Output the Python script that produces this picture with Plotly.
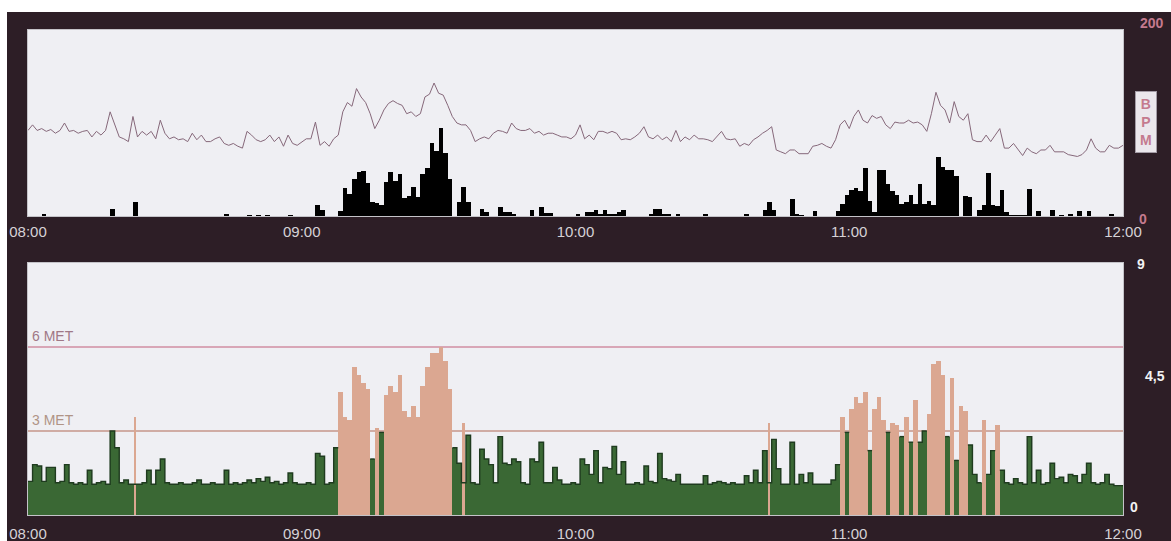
import plotly.graph_objects as go

# ---------------- data (one value per minute from 08:00) ----------------
tick_minutes = [0, 60, 120, 180, 240]
tick_labels = ["08:00", "09:00", "10:00", "11:00", "12:00"]

heart_rate = [
    92, 98, 92, 94, 91, 93, 89, 92, 100, 91, 92, 89, 91, 92, 85, 91, 87, 92, 112, 98,
    85, 83, 80, 107, 85, 91, 87, 91, 83, 103, 89, 83, 85, 82, 83, 80, 89, 82, 87, 80,
    80, 83, 85, 78, 76, 78, 75, 73, 91, 87, 82, 80, 82, 87, 80, 85, 75, 87, 78, 76,
    80, 83, 83, 101, 76, 80, 75, 83, 87, 112, 122, 118, 137, 128, 122, 110, 94, 103, 114, 121,
    124, 121, 119, 110, 112, 107, 110, 128, 131, 143, 132, 130, 119, 107, 100, 98, 98, 92, 80, 83,
    85, 83, 89, 92, 91, 89, 100, 94, 92, 92, 94, 89, 91, 87, 89, 89, 87, 85, 85, 83,
    87, 98, 83, 87, 82, 91, 91, 89, 91, 89, 82, 83, 82, 85, 89, 96, 85, 83, 87, 82,
    85, 80, 92, 80, 85, 82, 87, 83, 83, 82, 80, 85, 91, 83, 82, 83, 75, 78, 76, 82,
    85, 89, 92, 96, 71, 69, 67, 71, 71, 67, 67, 67, 75, 76, 78, 75, 73, 82, 98, 103,
    94, 107, 114, 103, 100, 108, 105, 107, 98, 94, 101, 100, 100, 103, 100, 101, 98, 91, 110, 133,
    119, 114, 100, 123, 107, 103, 110, 82, 80, 80, 87, 80, 87, 94, 73, 73, 78, 71, 65, 73,
    69, 67, 71, 71, 76, 69, 69, 69, 66, 65, 64, 66, 71, 83, 73, 69, 69, 76, 73, 73,
    76,
]

activity_counts = [
    0, 0, 0, 2, 0, 0, 0, 0, 0, 0, 0, 0, 0, 0, 0, 0, 0, 0, 8, 0,
    0, 0, 0, 15, 0, 0, 0, 0, 0, 0, 0, 0, 0, 0, 0, 0, 0, 0, 0, 0,
    0, 0, 0, 2, 0, 0, 0, 0, 1, 0, 1, 0, 1, 0, 0, 0, 0, 1, 0, 0,
    0, 0, 0, 12, 6, 0, 0, 0, 5, 30, 24, 40, 47, 48, 35, 15, 14, 12, 37, 47,
    38, 45, 19, 22, 31, 20, 45, 52, 78, 70, 95, 68, 40, 0, 15, 31, 15, 0, 0, 7,
    4, 0, 0, 10, 4, 4, 2, 0, 0, 0, 6, 0, 10, 3, 3, 0, 0, 0, 0, 0,
    2, 0, 4, 4, 6, 2, 6, 2, 2, 4, 6, 0, 0, 0, 0, 0, 2, 8, 8, 2,
    2, 0, 2, 0, 0, 0, 0, 0, 2, 0, 0, 0, 0, 0, 0, 0, 0, 2, 0, 0,
    0, 6, 15, 6, 0, 0, 0, 18, 2, 1, 0, 0, 5, 0, 0, 0, 0, 5, 13, 23,
    28, 30, 27, 52, 16, 4, 49, 49, 34, 27, 23, 13, 15, 23, 13, 34, 13, 16, 12, 63,
    53, 50, 50, 43, 0, 21, 20, 0, 6, 12, 46, 12, 11, 28, 4, 1, 1, 1, 1, 29,
    0, 5, 0, 0, 6, 0, 1, 0, 2, 0, 5, 0, 5, 0, 0, 0, 0, 2, 0, 0,
]

met_values = [
    1.2, 1.8, 1.75, 1.2, 1.7, 1.7, 1.15, 1.2, 1.8, 1.15, 1.1, 1.15, 1.1, 1.6, 1.1, 1.15, 1.2, 1.1, 3.0, 2.4,
    1.15, 1.25, 1.1, 1.1, 1.1, 1.15, 1.6, 1.1, 1.6, 2.0, 1.15, 1.1, 1.1, 1.15, 1.1, 1.1, 1.15, 1.25, 1.1, 1.1,
    1.15, 1.1, 1.1, 1.6, 1.1, 1.15, 1.1, 1.15, 1.25, 1.15, 1.3, 1.2, 1.35, 1.15, 1.2, 1.1, 1.15, 1.5, 1.15, 1.1,
    1.1, 1.15, 1.1, 2.2, 2.1, 1.1, 1.15, 2.4, 4.4, 3.5, 3.4, 5.3, 5.0, 4.7, 4.5, 2.0, 3.1, 2.95, 4.3, 4.6,
    4.4, 5.0, 3.7, 3.5, 3.9, 3.5, 4.6, 5.3, 5.8, 5.8, 6.0, 5.5, 4.5, 2.4, 1.85, 1.15, 2.85, 1.15, 1.1, 2.35,
    2.0, 1.8, 1.15, 2.8, 1.85, 1.8, 2.0, 1.9, 1.15, 1.1, 2.0, 1.9, 2.6, 1.15, 1.15, 1.7, 1.25, 1.1, 1.1, 1.15,
    1.1, 2.0, 1.8, 1.45, 2.3, 1.15, 1.7, 1.65, 2.45, 1.45, 1.9, 1.1, 1.1, 1.15, 1.1, 1.75, 1.2, 1.15, 2.2, 1.3,
    1.25, 1.2, 1.45, 1.1, 1.1, 1.1, 1.1, 1.1, 1.4, 1.1, 1.15, 1.2, 1.15, 1.1, 1.15, 1.1, 1.1, 1.4, 1.15, 1.6,
    1.15, 2.3, 1.15, 2.7, 1.65, 1.1, 1.1, 2.6, 1.1, 1.45, 1.15, 1.5, 1.1, 1.1, 1.1, 1.1, 1.25, 1.8, 3.5, 2.95,
    3.8, 4.2, 4.0, 4.4, 2.3, 3.8, 4.2, 3.4, 2.95, 3.3, 3.2, 2.8, 3.5, 2.6, 4.1, 2.6, 3.0, 3.6, 5.4, 5.5,
    5.0, 2.8, 4.9, 1.95, 3.9, 3.7, 2.5, 1.45, 1.15, 3.4, 1.45, 2.3, 3.2, 1.6, 1.15, 1.1, 1.3, 1.15, 1.1, 2.8,
    1.15, 1.6, 1.1, 1.15, 1.85, 1.3, 1.35, 1.15, 1.45, 1.4, 1.15, 1.45, 1.85, 1.15, 1.1, 1.15, 1.45, 1.1, 1.05, 1.05,
]

# brief bursts (thin bars) at these minutes
burst_minutes = [23, 95, 162]
burst_met = [3.5, 3.3, 3.3]

moderate_threshold = 3.0
met_levels = [6, 3]
met_level_labels = ["6 MET", "3 MET"]
bpm_range = [0, 200]
bpm_labels = ["0", "200"]
met_range = [0, 9]
met_tick_values = [0, 4.5, 9]
met_tick_labels = ["0", "4,5", "9"]

# ---------------- styling ----------------
W, H = 1171, 541
PL, PR, PT, PB = 28, 1123, 30, 515
DARK = "#2d1e26"
PLOT_BG = "#efeff3"
TICK_COL = "#d6d2d6"
PINK = "#c47a8e"
GREEN = "#3a6834"
GREEN_EDGE = "#1f3b1f"
TAN = "#dba791"
HR_COL = "#86687a"
FONT = "Liberation Sans"

plot_h = PB - PT
top_lo = (PB - 216) / plot_h
bot_hi = (PB - 263) / plot_h


def px_x(px):
    return (px - PL) / (PR - PL)


def px_y(py):
    return (PB - py) / plot_h


fig = go.Figure()

# top panel: activity bars + heart rate
bar_centers = [m + 0.5 for m in range(len(activity_counts))]
fig.add_trace(go.Bar(x=bar_centers, y=activity_counts, width=1.0,
                     marker=dict(color="#000000", line=dict(width=0)),
                     xaxis="x", yaxis="y3", showlegend=False, hoverinfo="skip"))
fig.add_trace(go.Scatter(x=list(range(len(heart_rate))), y=heart_rate, mode="lines",
                         line=dict(color=HR_COL, width=1), xaxis="x", yaxis="y",
                         showlegend=False))

# bottom panel: MET bars
met_centers = [m + 0.5 for m in range(len(met_values))]
met_colors = [TAN if v > moderate_threshold else GREEN for v in met_values]
fig.add_trace(go.Bar(x=met_centers, y=met_values, width=1.0,
                     marker=dict(color=met_colors, line=dict(width=0)),
                     xaxis="x2", yaxis="y2", showlegend=False))

# dark edge along the tops of the green (light-activity) bars
ex, ey = [], []
prev_green = False
for m, v in enumerate(met_values):
    if v <= moderate_threshold:
        if not prev_green and ex:
            ex.append(None)
            ey.append(None)
        ex += [m, m + 1]
        ey += [v, v]
        prev_green = True
    else:
        prev_green = False
fig.add_trace(go.Scatter(x=ex, y=ey, mode="lines", line=dict(color=GREEN_EDGE, width=1.4),
                         xaxis="x2", yaxis="y2", showlegend=False, hoverinfo="skip",
                         connectgaps=False))

fig.add_trace(go.Bar(x=[m + 0.5 for m in burst_minutes], y=burst_met, width=0.35,
                     marker=dict(color=TAN, line=dict(width=0)),
                     xaxis="x2", yaxis="y2", showlegend=False))

xcommon = dict(range=[0, 240], tickvals=tick_minutes, ticktext=tick_labels,
               showgrid=False, zeroline=False, ticks="", automargin=False,
               showline=True, linecolor="#c4c3c8", linewidth=1, mirror=True,
               tickfont=dict(family=FONT, size=15, color=TICK_COL))

fig.update_layout(
    width=W, height=H,
    margin=dict(l=PL, r=W - PR, t=PT, b=H - PB),
    paper_bgcolor=DARK, plot_bgcolor=PLOT_BG,
    barmode="overlay", bargap=0,
    xaxis=dict(domain=[0, 1], anchor="y", ticklabelstandoff=2, **xcommon),
    xaxis2=dict(domain=[0, 1], anchor="y2", ticklabelstandoff=5, **xcommon),
    yaxis=dict(domain=[top_lo, 1], range=bpm_range, anchor="x", showgrid=False,
               zeroline=False, showticklabels=False, ticks="", showline=True,
               linecolor="#c4c3c8", mirror=True),
    yaxis3=dict(range=bpm_range, overlaying="y", anchor="x", visible=False),
    yaxis2=dict(domain=[0, bot_hi], range=met_range, anchor="x2", showgrid=False,
                zeroline=False, showticklabels=False, ticks="", showline=True,
                linecolor="#c4c3c8", mirror=True),
    showlegend=False,
)

# MET reference lines and labels
line_cols = ["#d8a6b6", "#c6968a"]
label_cols = ["#a07886", "#b09486"]
line_w = [2, 1.5]
for lvl, lab, lc, tc, lw in zip(met_levels, met_level_labels, line_cols, label_cols, line_w):
    fig.add_shape(type="line", xref="x2", yref="y2", x0=0, x1=240, y0=lvl, y1=lvl,
                  line=dict(color=lc, width=lw), layer="below")
    fig.add_annotation(xref="x2", yref="y2", x=0, y=lvl, text=lab, showarrow=False,
                       xanchor="left", yanchor="bottom", xshift=2, yshift=1,
                       font=dict(family=FONT, size=14, color=tc))

# right-hand BPM scale labels
bpm_shift_x = [20, 29]
bpm_shift_y = [-3, 7]
for val, lab, sx, sy in zip(bpm_range, bpm_labels, bpm_shift_x, bpm_shift_y):
    fig.add_annotation(xref="x", yref="y", x=240, y=val, text="<b>%s</b>" % lab,
                       showarrow=False, xanchor="center", yanchor="middle",
                       xshift=sx, yshift=sy,
                       font=dict(family=FONT, size=14, color=PINK))
fig.add_annotation(xref="x", yref="y", x=240, y=101, text="<b>B<br>P<br>M</b>",
                   showarrow=False, xanchor="center", yanchor="middle", xshift=23,
                   bgcolor="#ebe7ec", bordercolor="#a49ca6", borderwidth=1, borderpad=4,
                   font=dict(family=FONT, size=14, color=PINK))

# right-hand MET scale labels
met_shift_x = [11, 32, 18]
met_shift_y = [8, 13, -1]
for val, lab, sx, sy in zip(met_tick_values, met_tick_labels, met_shift_x, met_shift_y):
    fig.add_annotation(xref="x2", yref="y2", x=240, y=val, text="<b>%s</b>" % lab,
                       showarrow=False, xanchor="center", yanchor="middle",
                       xshift=sx, yshift=sy,
                       font=dict(family=FONT, size=14, color="#f2f2f2"))

# white page margins around the dark panel
fig.add_shape(type="rect", xref="paper", yref="paper", x0=px_x(0), x1=px_x(W),
              y0=px_y(12), y1=px_y(0), fillcolor="#ffffff", line=dict(width=0), layer="above")
fig.add_shape(type="rect", xref="paper", yref="paper", x0=px_x(0), x1=px_x(7),
              y0=px_y(H), y1=px_y(0), fillcolor="#ffffff", line=dict(width=0), layer="above")

fig.write_html("out.html", config={"displayModeBar": False},
               post_script="document.body.style.margin='0';")
